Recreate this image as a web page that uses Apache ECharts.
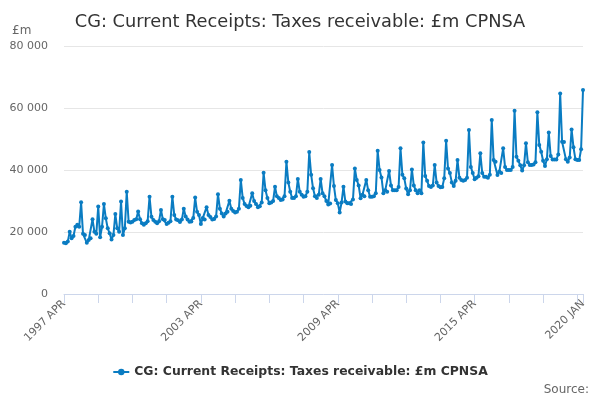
<!DOCTYPE html>
<html>
<head>
<meta charset="utf-8">
<title>CG: Current Receipts: Taxes receivable</title>
<script src="https://cdn.jsdelivr.net/npm/echarts@6/dist/echarts.min.js"></script>
<style>
	html, body { margin: 0; padding: 0; background: #fff; }
	#chart { width: 600px; height: 400px; }
</style>
</head>
<body>
<div id="chart"></div>
<script>
// monthly, 1997 APR .. 2020 JAN (one row per financial year, Apr..Mar)
let startYear = 1997;
let monthNames = ["APR", "MAY", "JUN", "JUL", "AUG", "SEP", "OCT", "NOV", "DEC", "JAN", "FEB", "MAR"];
let receipts = [
	16500, 16400, 16900, 20100, 18000, 18700, 21700, 22300, 21700, 29600, 19400, 19000,
	16500, 17400, 18000, 24100, 20100, 19400, 28200, 18300, 21700, 29000, 24400, 21200,
	19600, 17600, 19000, 25800, 21200, 20100, 29800, 19000, 21200, 33000, 23300, 23100,
	23300, 23900, 24100, 26600, 24100, 22800, 22300, 22800, 23500, 31400, 24900, 23900,
	23300, 22800, 23500, 27100, 24100, 23900, 22600, 23000, 23500, 31400, 25500, 24000,
	23800, 23200, 24000, 27500, 25000, 24000, 23300, 23400, 24500, 31100, 26500, 25500,
	22600, 24500, 24000, 28000, 25500, 24800, 24000, 24200, 25000, 32200, 27500, 26000,
	25000, 26000, 26500, 30100, 27500, 26800, 26300, 26500, 27500, 36800, 31000, 29000,
	28400, 28000, 28500, 32500, 30000, 29000, 28000, 28300, 29500, 39100, 33500, 31000,
	29300, 29500, 30000, 34600, 31500, 31000, 30300, 30500, 31500, 42700, 36000, 33000,
	31000, 31000, 31500, 37100, 33000, 32000, 31400, 31500, 33000, 45800, 38500, 34100,
	31500, 31000, 32000, 37100, 32500, 31500, 30000, 28900, 29200, 41600, 34800, 30300,
	29300, 26300, 29500, 34600, 29800, 29300, 29300, 29000, 30500, 40500, 36800, 35000,
	30900, 32000, 31500, 36800, 33500, 31400, 31400, 31500, 32500, 46200, 40000, 37600,
	32500, 33500, 33000, 39700, 35000, 33500, 33500, 33500, 34500, 47000, 38500, 37300,
	34000, 32200, 33500, 40200, 35000, 33500, 32500, 33500, 32500, 48900, 38100, 36500,
	34800, 34500, 35000, 41600, 36000, 34800, 34400, 34500, 37300, 49400, 40500, 39000,
	36000, 34800, 36500, 43200, 37500, 36800, 36500, 36800, 37500, 52900, 41000, 39000,
	37000, 37500, 38000, 45400, 39000, 37800, 37800, 37500, 38500, 56100, 43200, 42700,
	38400, 39500, 39000, 47000, 41000, 40000, 40000, 40000, 41000, 59100, 44300, 43000,
	41500, 39800, 41500, 48600, 42500, 41600, 41600, 41800, 42500, 58600, 48100, 45900,
	43000, 41300, 43500, 52100, 44500, 43400, 43400, 43400, 45000, 64700, 49100, 49000,
	43500, 42700, 44000, 53100, 47300, 43500, 43200, 43200, 46700, 65800,
];
let yTicks = [0, 20000, 40000, 60000, 80000];

let seriesName = "CG: Current Receipts: Taxes receivable: £m CPNSA";
let fontFamily = "DejaVu Sans";

let months = receipts.map((v, i) => {
	let year = startYear + Math.floor((i + 3) / 12);
	return year + " " + monthNames[i % 12];
});
let last = months.length - 1;

let fmt = function (v) {
	return String(v).replace(/\B(?=(\d{3})+(?!\d))/g, " ");
};

let myChart = echarts.init(document.getElementById("chart"));

let option = {
	animation: false,
	color: ["#0a7cc2"],
	textStyle: { fontFamily: fontFamily },
	title: {
		text: "CG: Current Receipts: Taxes receivable: £m CPNSA",
		left: "center",
		top: 8,
		textStyle: {
			fontFamily: fontFamily,
			fontSize: 17.8,
			fontWeight: "normal",
			color: "#333",
		},
	},
	grid: {
		left: 64,
		right: 17,
		top: 46,
		bottom: 106,
	},
	legend: {
		bottom: 17,
		left: "center",
		itemWidth: 16,
		itemHeight: 8,
		itemGap: 5,
		textStyle: {
			fontFamily: fontFamily,
			fontSize: 12.4,
			fontWeight: "bold",
			color: "#333",
		},
		data: [seriesName],
	},
	graphic: [
		{
			type: "text",
			left: 12,
			top: 25,
			style: { text: "£m", fill: "#666", fontSize: 12, fontFamily: fontFamily },
		},
		{
			type: "text",
			right: 11,
			top: 384,
			style: { text: "Source:", fill: "#666", fontSize: 12, fontFamily: fontFamily },
		},
	],
	xAxis: {
		type: "category",
		boundaryGap: false,
		data: months,
		axisLine: { lineStyle: { color: "#ccd6eb" } },
		axisTick: {
			length: 9,
			lineStyle: { color: "#ccd6eb" },
			interval: (index) => index % 18 === 0 || index === last,
		},
		axisLabel: {
			rotate: 45,
			color: "#666",
			fontSize: 11,
			margin: 8,
			interval: (index) => index % 72 === 0 || index === last,
		},
		splitLine: { show: false },
	},
	yAxis: {
		type: "value",
		min: yTicks[0],
		max: yTicks[yTicks.length - 1],
		interval: 20000,
		axisLine: { show: false },
		axisTick: { show: false },
		axisLabel: {
			color: "#666",
			fontSize: 11,
			margin: 16,
			formatter: fmt,
		},
		splitLine: { lineStyle: { color: "#e6e6e6" } },
	},
	series: [
		{
			name: seriesName,
			type: "line",
			data: receipts,
			symbol: "circle",
			symbolSize: 4,
			showAllSymbol: true,
			lineStyle: { width: 2 },
		},
	],
};

myChart.setOption(option);
</script>
</body>
</html>
